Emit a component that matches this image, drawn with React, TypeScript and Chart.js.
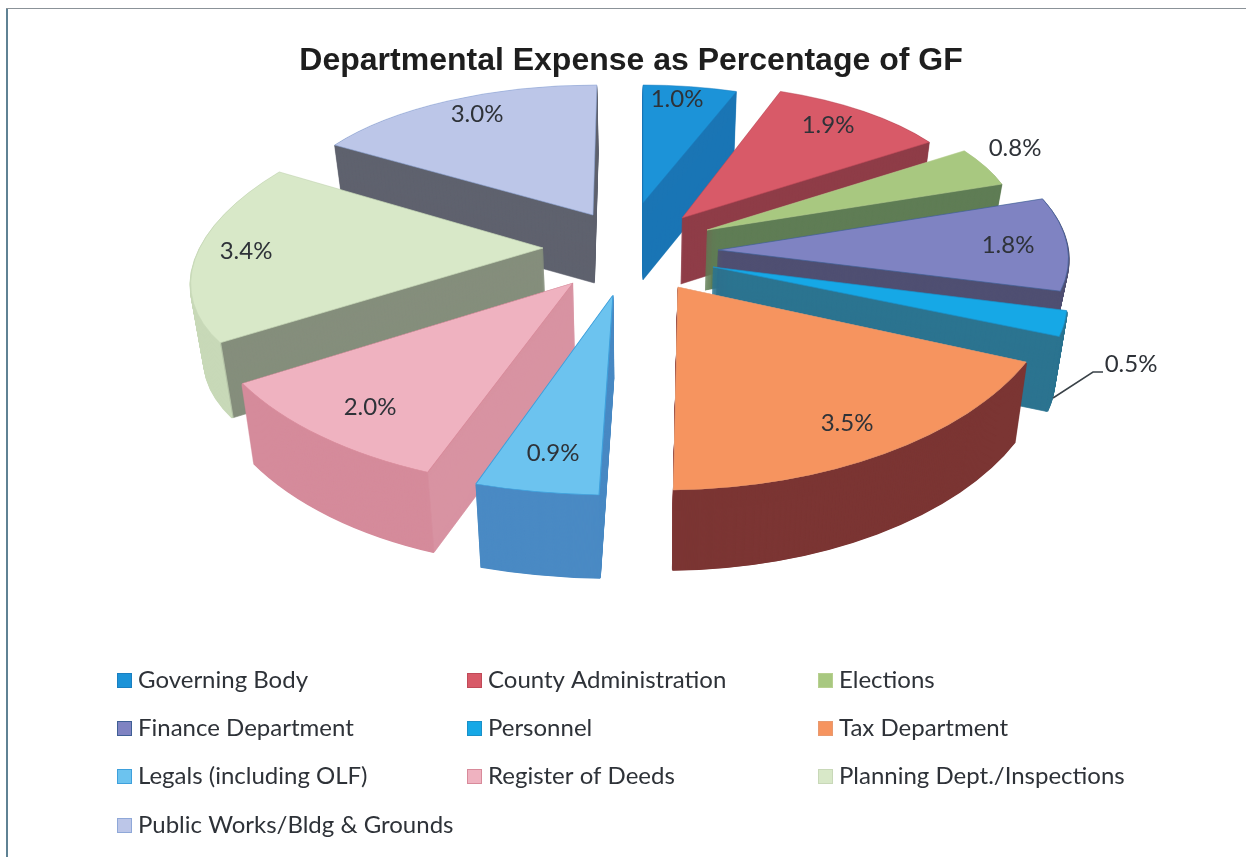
import React, { useEffect, useRef } from "react";
import { Chart, registerables } from "chart.js";

Chart.register(...registerables);

const categories = [
  "Governing Body", "County Administration", "Elections", "Finance Department", "Personnel",
  "Tax Department", "Legals (including OLF)", "Register of Deeds", "Planning Dept./Inspections", "Public Works/Bldg & Grounds",
];
const values = [1.0, 1.9, 0.8, 1.8, 0.5, 3.5, 0.9, 2.0, 3.4, 3.0];

const topColors = ["#1c93d8", "#d85a68", "#a8c880", "#7f83c2", "#16a8e6", "#f6945f", "#6cc3ef", "#efb2c0", "#d8e8c8", "#bcc6e8"];
const edgeColors = ["#1a7fc0", "#c04a58", "#b8d090", "#3f5f95", "#1a90c8", "#e89a70", "#3ea0dc", "#d88a9a", "#c8d8b8", "#8fa8d8"];
const sideColors = ["#1a75b5", "#8f3d48", "#5f7d55", "#4f4f72", "#2c7490", "#83393a", "#4a8ac4", "#d893a2", "#858e7c", "#5f626e"];
const rimColors = ["#1a75b5", "#8f3d48", "#5f7d55", "#4f4f72", "#2c7490", "#7b3533", "#4a8ac4", "#d58b9b", "#c8d9b8", "#5f626e"];

// 3-D projection of each exploded slice: apex, radii, shears, wall depth, label offset from the apex
const sliceApexX = [643, 682, 707, 718, 713, 678, 613, 573, 543, 593];
const sliceApexY = [203, 218, 230, 250, 267, 287, 295, 283, 248, 215];
const sliceRx = [285, 300, 312, 350, 345, 380, 418, 378, 348, 309];
const sliceRy = [118, 134, 140, 156, 165, 203, 200, 205, 157, 130];
const sliceShearX = [0, 0, 0, 0.12, 0.48, 0.04, 0, -0.11, -0.35, -0.03];
const sliceShearY = [0, 0, 0, 0, 0, -0.03, 0, 0.03, -0.032, 0];
const sliceDepth = [77, 66, 60, 60, 75, 80, 83, 80, 75, 68];
const labelDx = [34, 146, 308, 290, 418, 169, -60, -203, -297, -116];
const labelDy = [-104, -93, -82, -5, 97, 136, 158, 124, 3, -101];
const paintOrder = [0, 9, 1, 2, 3, 4, 5, 8, 7, 6];
const wallTaper = 0.03;
const wallTaperAxisX = 640;

const legendColumnX = [117, 467, 818];
const legendRowY = [680, 728, 776, 825];

const labelFont = '24px Lato, "Open Sans", sans-serif';
const textColor = "#2e3238";

const pie3d = {
  id: "pie3d",
  beforeDraw(chart: any) {
    const { ctx, width, height } = chart;
    ctx.save();
    ctx.fillStyle = "#ffffff";
    ctx.fillRect(0, 0, width, height);
    ctx.fillStyle = "#5f8294";
    ctx.fillRect(6, 8, 2, height - 8);
    ctx.fillStyle = "#8b9298";
    ctx.fillRect(6, 8, width - 6, 1);
    ctx.restore();
  },
  beforeDatasetDraw(chart: any, args: any) {
    const { ctx } = chart;
    const arcs = chart.getDatasetMeta(args.index).data;
    const place = (arc: any, i: number, depth: number) => {
      const R = arc.outerRadius;
      const taper = 1 - (wallTaper * depth) / sliceDepth[i];
      ctx.translate(wallTaperAxisX, 0);
      ctx.scale(taper, 1);
      ctx.translate(-wallTaperAxisX, 0);
      ctx.translate(sliceApexX[i], sliceApexY[i] + depth);
      ctx.transform(1, sliceShearY[i], 0, 1, 0, 0);
      ctx.transform(sliceRx[i] / R, 0, (sliceShearX[i] * sliceRy[i]) / R, sliceRy[i] / R, 0, 0);
      ctx.translate(-arc.x, -arc.y);
    };
    paintOrder.forEach((i) => {
      const arc = arcs[i];
      const base = arc.options;
      const wall = Object.create(base);
      wall.backgroundColor = sideColors[i];
      wall.borderColor = sideColors[i];
      wall.borderWidth = 1;
      for (let d = sliceDepth[i]; d >= 1; d--) {
        ctx.save();
        place(arc, i, d);
        arc.options = wall;
        arc.draw(ctx);
        arc.options = base;
        ctx.beginPath();
        ctx.arc(arc.x, arc.y, arc.outerRadius, arc.startAngle, arc.endAngle);
        ctx.strokeStyle = rimColors[i];
        ctx.lineWidth = 3;
        ctx.stroke();
        ctx.restore();
      }
      ctx.save();
      place(arc, i, 0);
      arc.draw(ctx);
      ctx.restore();
    });
    return false;
  },
  afterDraw(chart: any) {
    const { ctx } = chart;
    ctx.save();
    // leader line of the Personnel label
    const p = values.indexOf(0.5);
    ctx.strokeStyle = "#3a4248";
    ctx.lineWidth = 1.5;
    ctx.beginPath();
    ctx.moveTo(sliceApexX[p] + 340, sliceApexY[p] + 131);
    ctx.lineTo(sliceApexX[p] + 380, sliceApexY[p] + 105);
    ctx.lineTo(sliceApexX[p] + 390, sliceApexY[p] + 105);
    ctx.stroke();
    // value labels
    ctx.font = labelFont;
    ctx.fillStyle = textColor;
    ctx.textAlign = "center";
    ctx.textBaseline = "middle";
    values.forEach((v, i) => {
      ctx.fillText(v.toFixed(1) + "%", sliceApexX[i] + labelDx[i], sliceApexY[i] + labelDy[i]);
    });
    // legend in three columns
    ctx.textAlign = "left";
    categories.forEach((name, i) => {
      const x = legendColumnX[i % 3];
      const y = legendRowY[Math.floor(i / 3)];
      ctx.fillStyle = topColors[i];
      ctx.fillRect(x, y - 7, 15, 15);
      ctx.strokeStyle = edgeColors[i];
      ctx.lineWidth = 1;
      ctx.strokeRect(x + 0.5, y - 6.5, 14, 14);
      ctx.fillStyle = textColor;
      ctx.fillText(name, x + 21, y);
    });
    ctx.restore();
  },
};

export default function App() {
  const ref = useRef<HTMLCanvasElement | null>(null);
  useEffect(() => {
    if (!ref.current) return;
    const chart = new Chart(ref.current, {
      type: "pie",
      data: {
        labels: categories,
        datasets: [{ data: values, backgroundColor: topColors, borderColor: edgeColors, borderWidth: 1 }],
      },
      options: {
        animation: false,
        responsive: false,
        rotation: 0,
        layout: { padding: { left: 16, top: 0, right: 0, bottom: 0 } },
        plugins: {
          legend: { display: false },
          tooltip: { enabled: false },
          title: {
            display: true,
            text: "Departmental Expense as Percentage of GF",
            color: "#1e1e1e",
            font: { family: '"Liberation Sans", Arial, sans-serif', size: 32, weight: "bold" },
            padding: { top: 42, bottom: 10 },
          },
        },
      },
      plugins: [pie3d],
    } as any);
    return () => chart.destroy();
  }, []);
  return (
    <div style={{ position: "absolute", left: 0, top: 0, width: 1246, height: 857, overflow: "hidden", background: "#fff" }}>
      <canvas ref={ref} width={1246} height={857} style={{ display: "block", filter: "blur(0.5px)" }} />
    </div>
  );
}
